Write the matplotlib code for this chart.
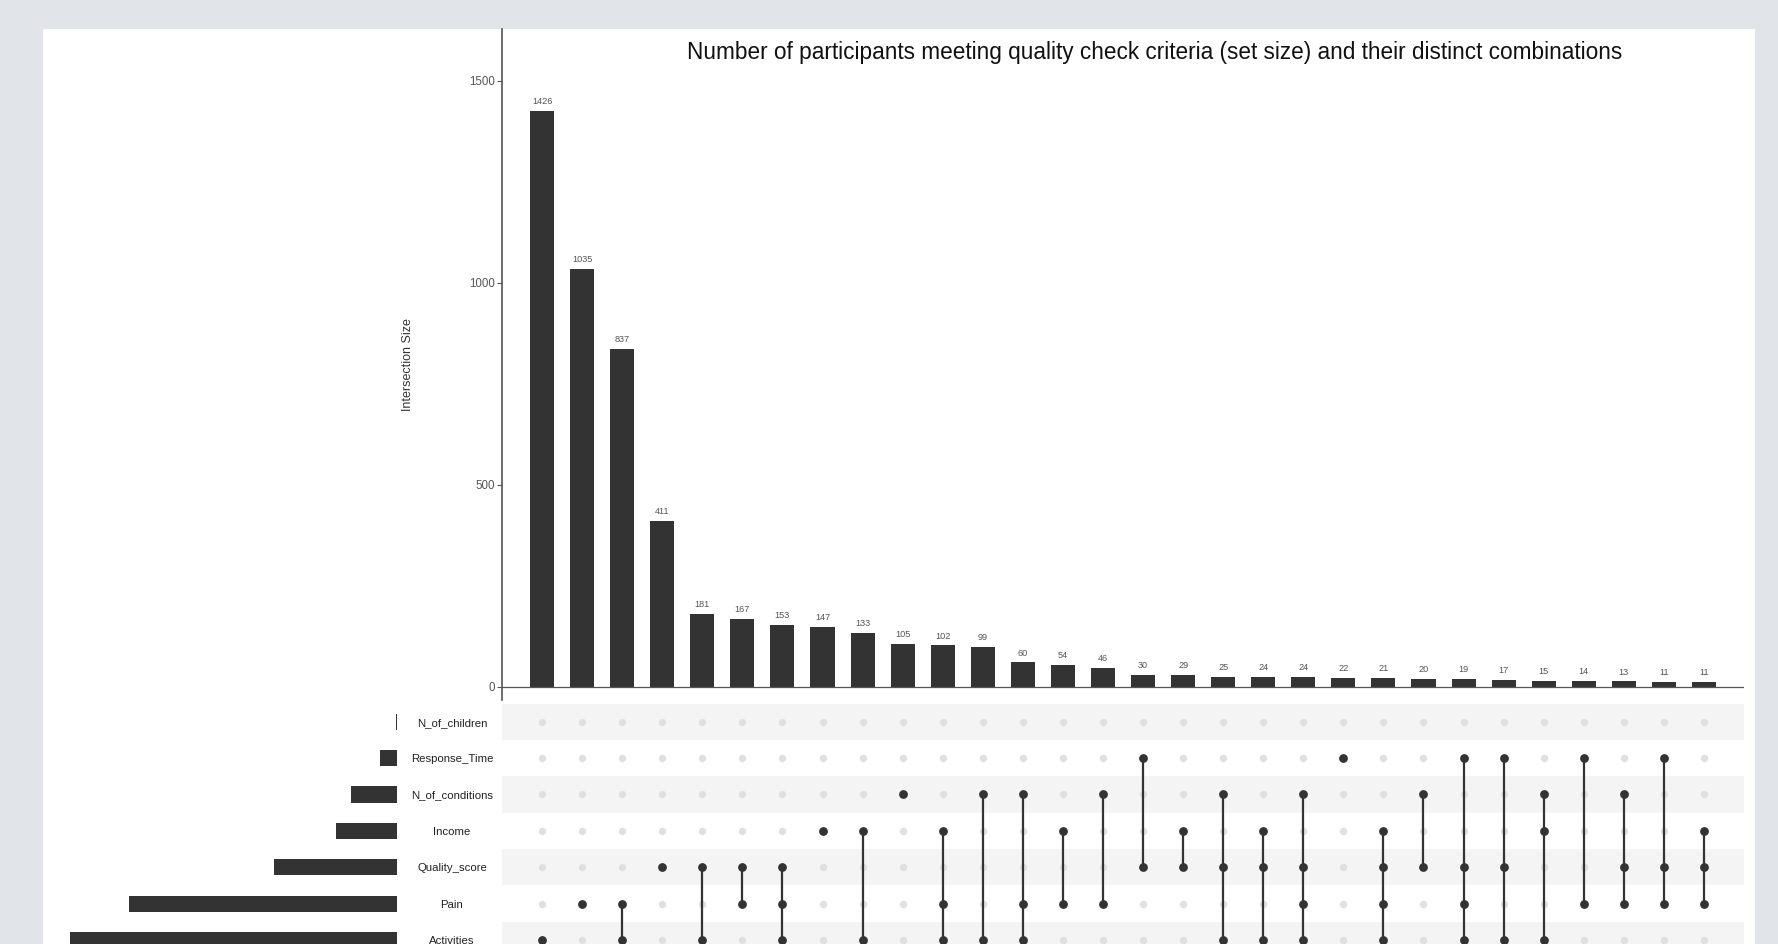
import matplotlib
matplotlib.use('Agg')
import matplotlib.pyplot as plt
from matplotlib.patches import Rectangle

plt.rcParams['font.family'] = ['Liberation Sans', 'DejaVu Sans']

# ---------------- data ----------------
sets = ['N_of_children', 'Response_Time', 'N_of_conditions', 'Income',
        'Quality_score', 'Pain', 'Activities']
set_sizes = [13, 160, 443, 591, 1181, 2579, 3150]

intersection_sizes = [1426, 1035, 837, 411, 181, 167, 153, 147, 133, 105,
                      102, 99, 60, 54, 46, 30, 29, 25, 24, 24,
                      22, 21, 20, 19, 17, 15, 14, 13, 11, 11]

intersection_members = [
    ['Activities'],
    ['Pain'],
    ['Pain', 'Activities'],
    ['Quality_score'],
    ['Quality_score', 'Activities'],
    ['Quality_score', 'Pain'],
    ['Quality_score', 'Pain', 'Activities'],
    ['Income'],
    ['Income', 'Activities'],
    ['N_of_conditions'],
    ['Income', 'Pain', 'Activities'],
    ['N_of_conditions', 'Activities'],
    ['N_of_conditions', 'Pain', 'Activities'],
    ['Income', 'Pain'],
    ['N_of_conditions', 'Pain'],
    ['Response_Time', 'Quality_score'],
    ['Income', 'Quality_score'],
    ['N_of_conditions', 'Quality_score', 'Activities'],
    ['Income', 'Quality_score', 'Activities'],
    ['N_of_conditions', 'Quality_score', 'Pain', 'Activities'],
    ['Response_Time'],
    ['Income', 'Quality_score', 'Pain', 'Activities'],
    ['N_of_conditions', 'Quality_score'],
    ['Response_Time', 'Quality_score', 'Pain', 'Activities'],
    ['Response_Time', 'Quality_score', 'Activities'],
    ['N_of_conditions', 'Income', 'Activities'],
    ['Response_Time', 'Pain'],
    ['N_of_conditions', 'Quality_score', 'Pain'],
    ['Response_Time', 'Quality_score', 'Pain'],
    ['Income', 'Quality_score', 'Pain'],
]

title = ('Number of participants meeting quality check criteria (set size) '
         'and their distinct combinations')

# ---------------- styling ----------------
W, H = 1778, 944
BAR = '#333333'
TXT = '#555555'
STRIPE = '#f4f4f4'
LIGHT_DOT = '#e0e0e0'

fig = plt.figure(figsize=(W / 100, H / 100), dpi=100)
fig.patch.set_facecolor('#e1e5ea')
bg = Rectangle((43 / W, 0), (1755 - 43) / W, 1 - 29 / H,
               transform=fig.transFigure, facecolor='white',
               edgecolor='none', zorder=-10)
fig.add_artist(bg)


def box(l, t, r, b):
    return [l / W, 1 - b / H, (r - l) / W, (b - t) / H]


row_h = 36.4
m_top = 703.5
m_bot = m_top + row_h * len(sets)

ax_bar = fig.add_axes(box(502, 29, 1744, 700))
ax_m = fig.add_axes(box(502, m_top, 1744, m_bot), sharex=ax_bar)
ax_s = fig.add_axes(box(43, m_top, 397, m_bot), sharey=ax_m)

n = len(intersection_sizes)
xs = list(range(n))

# ---- intersection bars ----
ax_bar.bar(xs, intersection_sizes, width=0.6, color=BAR, zorder=2)
for x, v in zip(xs, intersection_sizes):
    ax_bar.annotate(str(v), (x, v), xytext=(0, 3.5), textcoords='offset points',
                    ha='center', va='bottom', fontsize=6.6, color=TXT)
ax_bar.axhline(0, color='#555555', lw=0.9, zorder=3)
ax_bar.set_xlim(-1.0, 30.0)
ax_bar.set_ylim(-33, 1628)
ax_bar.set_yticks([0, 500, 1000, 1500])
ax_bar.tick_params(axis='y', labelsize=8.3, labelcolor=TXT, color='#555555',
                   length=3.5, width=0.8, pad=1.5)
ax_bar.tick_params(axis='x', bottom=False, labelbottom=False)
for s in ['top', 'right', 'bottom']:
    ax_bar.spines[s].set_visible(False)
ax_bar.spines['left'].set_color('#555555')
ax_bar.spines['left'].set_linewidth(1.2)
ax_bar.set_ylabel('Intersection Size', fontsize=9, color='#333333')
ax_bar.yaxis.set_label_coords((414 - 502) / (1744 - 502), 0.5)
ax_bar.patch.set_alpha(0)

# ---- matrix ----
row_of = {s: i for i, s in enumerate(sets)}
for i in range(len(sets)):
    if i % 2 == 0:
        ax_m.axhspan(i - 0.5, i + 0.5, color=STRIPE, lw=0, zorder=0)
for x in xs:
    ax_m.scatter([x] * len(sets), range(len(sets)), s=28, color=LIGHT_DOT,
                 lw=0, zorder=1)
for x, members in zip(xs, intersection_members):
    rows = [row_of[m] for m in members]
    if len(rows) > 1:
        ax_m.plot([x, x], [min(rows), max(rows)], color=BAR, lw=1.6, zorder=2)
    ax_m.scatter([x] * len(rows), rows, s=40, color=BAR, lw=0, zorder=3)
ax_m.set_ylim(len(sets) - 0.5, -0.5)
ax_m.set_yticks(range(len(sets)))
ax_m.set_yticklabels(sets)
ax_m.tick_params(axis='y', length=0, pad=36, labelsize=8.2, labelcolor='#222222')
for lbl in ax_m.get_yticklabels():
    lbl.set_ha('center')
ax_m.tick_params(axis='x', bottom=False, labelbottom=False)
for s in ax_m.spines.values():
    s.set_visible(False)
ax_m.patch.set_alpha(0)

# ---- set size bars ----
ax_s.barh(range(len(sets)), set_sizes, height=0.44, color=BAR)
ax_s.set_xlim(3406, 0)
ax_s.axis('off')

fig.text(1155 / W, 1 - 52 / H, title, ha='center', va='center',
         fontsize=16.3, color='#111111')

fig.savefig('out.png', dpi=100, facecolor=fig.get_facecolor())
